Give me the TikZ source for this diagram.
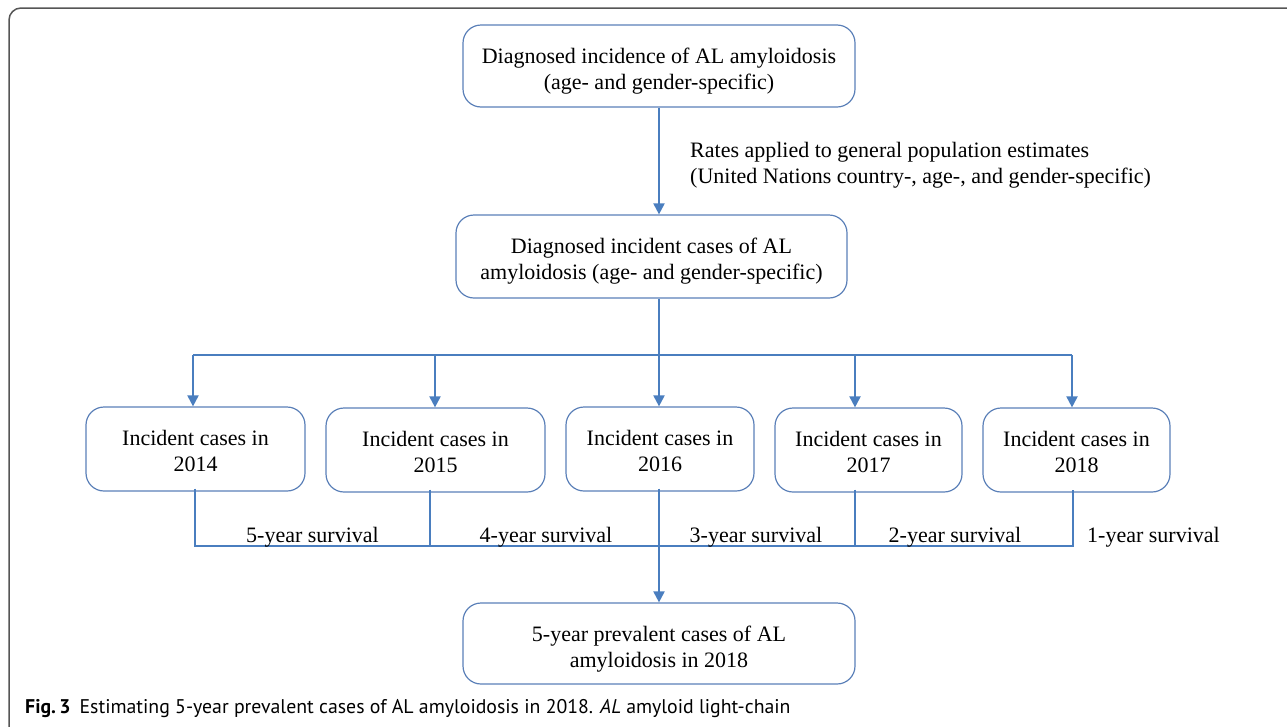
\documentclass[tikz,border=0pt]{standalone}
\usepackage{fontspec}
\setmainfont{Liberation Serif}
\newfontfamily\capfont{PT Sans}
\usetikzlibrary{arrows.meta}
\definecolor{boxc}{HTML}{5B80B8}
\definecolor{linec}{HTML}{4A7EBF}
\definecolor{framec}{HTML}{555555}
\newcommand{\tup}[1]{\rule{0pt}{#1}}
\begin{document}
\begin{tikzpicture}[x=1pt,y=-1pt,
  box/.style={draw=boxc, line width=1.2pt, rounded corners=18pt, align=center,
    font=\fontsize{22}{26}\selectfont, inner sep=0pt},
  conn/.style={draw=linec, line width=2pt},
  arr/.style={conn, -{Triangle[width=11pt,length=11pt]}},
  lbl/.style={font=\fontsize{22}{26}\selectfont, inner sep=0pt}]
\useasboundingbox (0,0) rectangle (1287,726);
\begin{scope}
\clip (0,0) rectangle (1287,726);
\draw[framec, line width=1.5pt, rounded corners=12pt] (9,8) rectangle (1310,740);
\end{scope}

\node[box, minimum width=392pt, minimum height=82pt] (top) at (659,66)
  {\tup{25pt}Diagnosed incidence of AL amyloidosis\\(age- and gender-specific)};
\node[box, minimum width=391pt, minimum height=83pt] (mid) at (651.5,256.5)
  {\tup{25pt}Diagnosed incident cases of AL\\amyloidosis (age- and gender-specific)};

\node[box, minimum width=219pt, minimum height=84pt] (b1) at (195.5,449) {\tup{19pt}Incident cases in\\2014};
\node[box, minimum width=219pt, minimum height=84pt] (b2) at (435.5,450) {\tup{19pt}Incident cases in\\2015};
\node[box, minimum width=188pt, minimum height=84pt] (b3) at (660,449) {\tup{19pt}Incident cases in\\2016};
\node[box, minimum width=187pt, minimum height=84pt] (b4) at (868.5,450) {\tup{19pt}Incident cases in\\2017};
\node[box, minimum width=187pt, minimum height=84pt] (b5) at (1076.5,450) {\tup{19pt}Incident cases in\\2018};

\node[box, minimum width=392pt, minimum height=81pt] (bot) at (659,643.5)
  {\tup{27pt}5-year prevalent cases of AL\\amyloidosis in 2018};

% top arrow
\draw[arr] (top.south) -- (top.south |- mid.north);
\node[lbl, anchor=west, align=left] (rates) at (690,165)
  {Rates applied to general population estimates\\(United Nations country-, age-, and gender-specific)};

% distribution
\coordinate (hc) at (659,355);
\coordinate (h1) at (193,355);
\coordinate (h2) at (435,355);
\coordinate (h4) at (855,355);
\coordinate (h5) at (1072,355);
\draw[conn] (top.south |- mid.south) -- (hc);
\draw[conn] (h1) -- (h5);
\draw[arr] (h1) -- (h1 |- b1.north);
\draw[arr] (h2) -- (h2 |- b2.north);
\draw[arr] (hc) -- (hc |- b3.north);
\draw[arr] (h4) -- (h4 |- b4.north);
\draw[arr] (h5) -- (h5 |- b5.north);

% collection
\coordinate (s1) at (195,546);
\coordinate (s2) at (430,546);
\coordinate (s4) at (855,546);
\coordinate (s5) at (1073,546);
\draw[conn] ([yshift=3pt]s1 |- b1.south) -- (s1) -- (s5) -- ([yshift=3pt]s5 |- b5.south);
\draw[conn] ([yshift=3pt]s2 |- b2.south) -- (s2);
\draw[conn] ([yshift=3pt]s4 |- b4.south) -- (s4);
\draw[arr] ([yshift=3pt]top.south |- b3.south) -- (top.south |- bot.north);

\node[lbl, anchor=base] (l5) at (312.5,542) {5-year survival};
\node[lbl, anchor=base] (l4) at (546,542) {4-year survival};
\node[lbl, anchor=base] (l3) at (756,542) {3-year survival};
\node[lbl, anchor=base] (l2) at (955,542) {2-year survival};
\node[lbl, anchor=base] (l1) at (1153.5,542) {1-year survival};

\node[anchor=base west, inner sep=0pt, font=\capfont\fontsize{19.8}{22}\selectfont] (cap) at (25,713)
  {\textbf{Fig.\,3}\hspace{9pt}Estimating 5-year prevalent cases of AL amyloidosis in 2018. \textit{AL} amyloid light-chain};
\end{tikzpicture}
\end{document}
